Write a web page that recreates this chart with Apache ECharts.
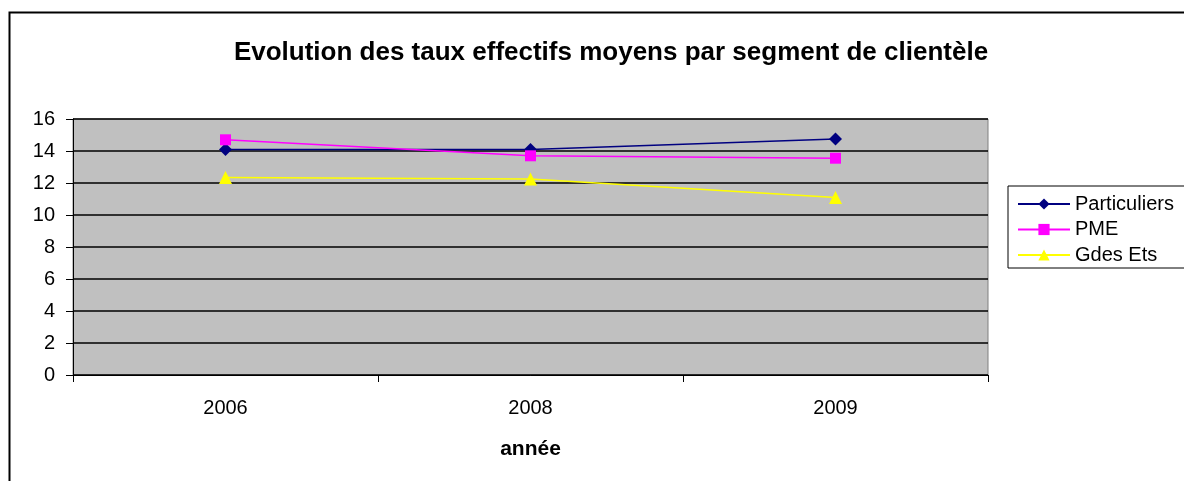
<!DOCTYPE html>
<html>
<head>
<meta charset="utf-8">
<script src="https://cdn.jsdelivr.net/npm/echarts@6/dist/echarts.min.js"></script>
<style>
  html, body { margin: 0; padding: 0; background: #fff; }
  #chart { width: 1184px; height: 481px; }
</style>
</head>
<body>
<div id="chart"></div>
<script>
    // Data
    var years = ['2006', '2008', '2009'];
    var particuliers = [14.1, 14.1, 14.75];
    var pme = [14.7, 13.7, 13.55];
    var gdesEts = [12.35, 12.25, 11.1];

    var chart = echarts.init(document.getElementById('chart'));

    var option = {
        animation: false,
        textStyle: { fontFamily: 'Liberation Sans, Arial, sans-serif' },

        // Frame around the chart
        graphic: [{
            type: 'rect',
            silent: true,
            z: -10,
            shape: { x: 9.5, y: 12.5, width: 1200, height: 500 },
            style: { fill: 'none', stroke: '#000', lineWidth: 2 }
        }],

        title: {
            text: 'Evolution des taux effectifs moyens par segment de clientèle',
            left: 606,
            top: 35,
            textAlign: 'center',
            textStyle: { fontSize: 26, fontWeight: 'bold', color: '#000' }
        },

        // Setup grid
        grid: {
            left: 73,
            right: 196,
            top: 119,
            bottom: 106,
            show: true,
            backgroundColor: '#c0c0c0',
            borderColor: '#808080',
            borderWidth: 1
        },

        legend: {
            orient: 'vertical',
            left: 1008,
            top: 186,
            width: 200,
            padding: [8, 60, 3, 9],
            itemGap: 5.5,
            itemWidth: 52,
            itemHeight: 14,
            borderColor: '#000',
            borderWidth: 1,
            textStyle: { fontSize: 20, lineHeight: 20, color: '#000', padding: [0, 0, 0, 0] },
            data: ['Particuliers', 'PME', 'Gdes Ets']
        },

        xAxis: [{
            type: 'category',
            data: years,
            boundaryGap: true,
            name: 'année',
            nameLocation: 'middle',
            nameGap: 64,
            nameTextStyle: { fontSize: 21, fontWeight: 'bold', color: '#000' },
            axisLine: { lineStyle: { color: '#000', width: 1 } },
            axisTick: { show: true, length: 7, alignWithLabel: false, lineStyle: { color: '#000' } },
            axisLabel: { fontSize: 20, color: '#000', margin: 23 },
            splitLine: { show: false }
        }],

        yAxis: [{
            type: 'value',
            min: 0,
            max: 16,
            interval: 2,
            axisLine: { show: true, lineStyle: { color: '#000', width: 1 } },
            axisTick: { show: true, length: 7, lineStyle: { color: '#000' } },
            axisLabel: { fontSize: 20, color: '#000', margin: 18 },
            splitLine: { show: true, lineStyle: { color: '#000', width: 1.5 } }
        }],

        series: [
            {
                name: 'Particuliers',
                type: 'line',
                data: particuliers,
                color: '#000080',
                symbol: 'diamond',
                symbolSize: 13,
                lineStyle: { width: 1.5 },
                z: 3
            },
            {
                name: 'PME',
                type: 'line',
                data: pme,
                color: '#ff00ff',
                symbol: 'rect',
                symbolSize: 11,
                lineStyle: { width: 1.5 },
                z: 4
            },
            {
                name: 'Gdes Ets',
                type: 'line',
                data: gdesEts,
                color: '#ffff00',
                symbol: 'triangle',
                symbolSize: 13,
                lineStyle: { width: 1.5 },
                z: 5
            }
        ]
    };

    chart.setOption(option);
</script>
</body>
</html>
